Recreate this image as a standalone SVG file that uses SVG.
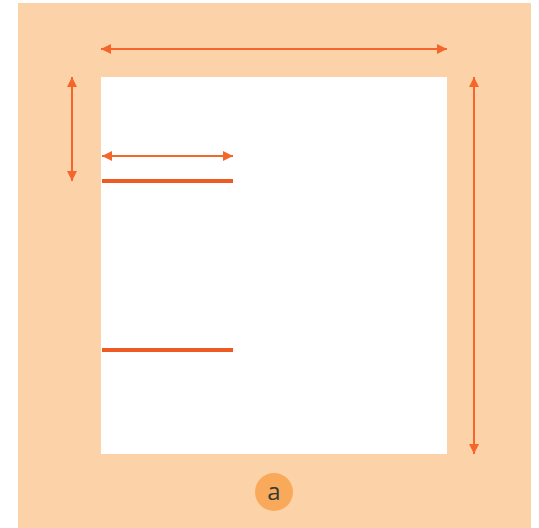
<svg xmlns="http://www.w3.org/2000/svg" width="539" height="528" viewBox="0 0 539 528">
<style>
.dim{stroke:#F4662A;stroke-width:2;fill:none;marker-start:url(#ah);marker-end:url(#ah)}
.bar{stroke:#EE5A24;stroke-width:4}
</style>
<defs>
<marker id="ah" viewBox="0 0 10 10" refX="10" refY="5" markerWidth="5" markerHeight="5" orient="auto-start-reverse" markerUnits="strokeWidth">
<path d="M0,0 L10,5 L0,10 z" fill="#F4662A"/>
</marker>
</defs>
<rect width="539" height="528" fill="#ffffff"/>
<g id="frame">
<rect x="18" y="3" width="513" height="525" fill="#FCD3A8"/>
<rect x="101" y="77" width="346" height="377" fill="#ffffff"/>
</g>
<g id="connectors">
<line class="dim" x1="101" y1="49" x2="447" y2="49"/>
<line class="dim" x1="474" y1="77" x2="474" y2="454"/>
<line class="dim" x1="72" y1="77" x2="72" y2="181"/>
<line class="dim" x1="102" y1="156" x2="233" y2="156"/>
</g>
<g id="bars">
<line class="bar" x1="102" y1="181" x2="233" y2="181"/>
<line class="bar" x1="102" y1="350" x2="233" y2="350"/>
</g>
<g id="label-a">
<circle cx="274" cy="492" r="19" fill="#F9A95A"/>
<text x="274" y="500" font-family="'Open Sans', 'DejaVu Sans', sans-serif" font-size="24" fill="#2F3A3A" text-anchor="middle">a</text>
</g>
</svg>
